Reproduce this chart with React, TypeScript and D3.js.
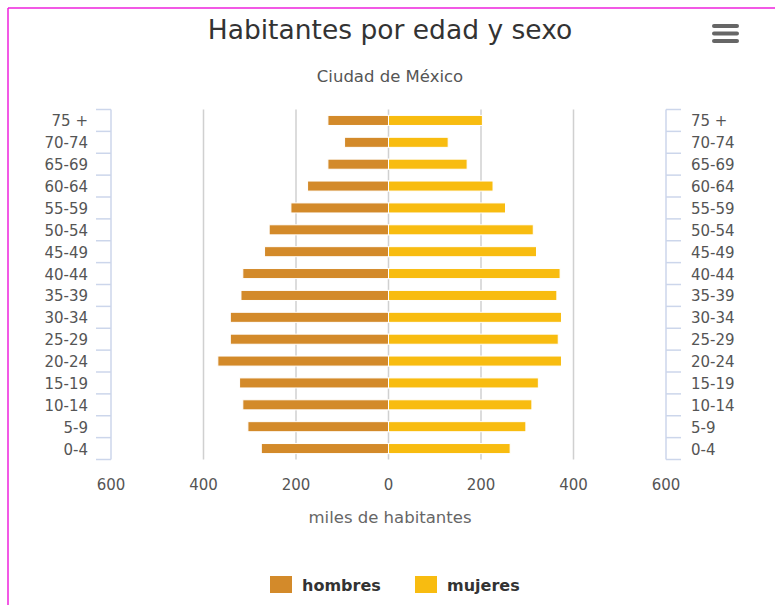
import React from "react";
import * as d3 from "d3";

const categories = ["0-4", "5-9", "10-14", "15-19", "20-24", "25-29", "30-34", "35-39", "40-44", "45-49", "50-54", "55-59", "60-64", "65-69", "70-74", "75 +"];
const hombres = [275, 304, 315, 322, 369, 342, 342, 319, 315, 268, 258, 211, 175, 131, 95, 131];
const mujeres = [263, 297, 310, 324, 374, 367, 374, 364, 371, 320, 313, 253, 226, 170, 129, 203];
const xTicks = [-600, -400, -200, 0, 200, 400, 600];
const gridValues = [-400, -200, 0, 200, 400];
const seriesNames = ["hombres", "mujeres"];
const colors = ["#d38a2a", "#f8bc10"];

const W = 775, H = 605;
const plot = { left: 111, right: 666, top: 109.5, bottom: 459.5 };
const font = "'DejaVu Sans', Verdana, sans-serif";

export default function App() {
  const x = d3.scaleLinear().domain([-600, 600]).range([plot.left, plot.right]);
  const y = d3.scaleBand<string>()
    .domain([...categories].reverse())
    .range([plot.top, plot.bottom])
    .paddingInner(0.54)
    .paddingOuter(0.27);
  const step = (plot.bottom - plot.top) / categories.length;
  const boundaries = d3.range(categories.length + 1).map((i) => plot.top + i * step);
  const axisColor = "#ccd6eb";

  return (
    <svg width={W} height={H} style={{ position: "absolute", left: 0, top: 0, fontFamily: font }}>
      <rect x={0} y={0} width={W} height={H} fill="#fff" />
      {/* frame */}
      <line x1={8} y1={8} x2={W} y2={8} stroke="#ee22dd" strokeWidth={1.5} />
      <line x1={8} y1={8} x2={8} y2={H} stroke="#ee22dd" strokeWidth={1.5} />

      {/* title */}
      <text x={390} y={39} textAnchor="middle" fontSize={26.5} fill="#333">Habitantes por edad y sexo</text>
      <text x={390} y={82} textAnchor="middle" fontSize={16.5} fill="#555">Ciudad de México</text>

      {/* menu icon */}
      {[26, 33.5, 41].map((yy, i) => (
        <line key={i} x1={714} x2={737} y1={yy} y2={yy} stroke="#666" strokeWidth={4} strokeLinecap="round" />
      ))}

      {/* grid */}
      {gridValues.map((v) => (
        <line key={v} x1={x(v)} x2={x(v)} y1={plot.top} y2={plot.bottom} stroke="#d0d0d0" strokeWidth={1.5} />
      ))}

      {/* bars */}
      {categories.map((c, i) => (
        <g key={c}>
          <rect x={x(-hombres[i])} y={y(c)} width={x(0) - x(-hombres[i])} height={y.bandwidth()} fill={colors[0]} stroke="#fff" strokeWidth={1} />
          <rect x={x(0)} y={y(c)} width={x(mujeres[i]) - x(0)} height={y.bandwidth()} fill={colors[1]} stroke="#fff" strokeWidth={1} />
        </g>
      ))}

      {/* left category axis */}
      <line x1={plot.left} x2={plot.left} y1={plot.top} y2={plot.bottom} stroke={axisColor} strokeWidth={1.5} />
      {boundaries.map((b, i) => (
        <line key={"l" + i} x1={plot.left - 15} x2={plot.left} y1={b} y2={b} stroke={axisColor} strokeWidth={1.5} />
      ))}
      {categories.map((c) => (
        <text key={"lt" + c} x={88} y={(y(c) as number) + y.bandwidth() / 2 + 6} textAnchor="end" fontSize={15} fill="#555">{c}</text>
      ))}

      {/* right category axis */}
      <line x1={plot.right} x2={plot.right} y1={plot.top} y2={plot.bottom} stroke={axisColor} strokeWidth={1.5} />
      {boundaries.map((b, i) => (
        <line key={"r" + i} x1={plot.right} x2={plot.right + 15} y1={b} y2={b} stroke={axisColor} strokeWidth={1.5} />
      ))}
      {categories.map((c) => (
        <text key={"rt" + c} x={691} y={(y(c) as number) + y.bandwidth() / 2 + 6} textAnchor="start" fontSize={15} fill="#555">{c}</text>
      ))}

      {/* value axis labels */}
      {xTicks.map((t) => (
        <text key={"x" + t} x={x(t)} y={490} textAnchor="middle" fontSize={15} fill="#555">{Math.abs(t)}</text>
      ))}
      <text x={390} y={523} textAnchor="middle" fontSize={16.5} fill="#666">miles de habitantes</text>

      {/* legend */}
      {seriesNames.map((s, i) => {
        const lx = [270, 415][i];
        return (
          <g key={s}>
            <rect x={lx} y={576} width={22} height={17} fill={colors[i]} />
            <text x={lx + 32} y={591} fontSize={16} fontWeight="bold" fill="#333">{s}</text>
          </g>
        );
      })}
    </svg>
  );
}
